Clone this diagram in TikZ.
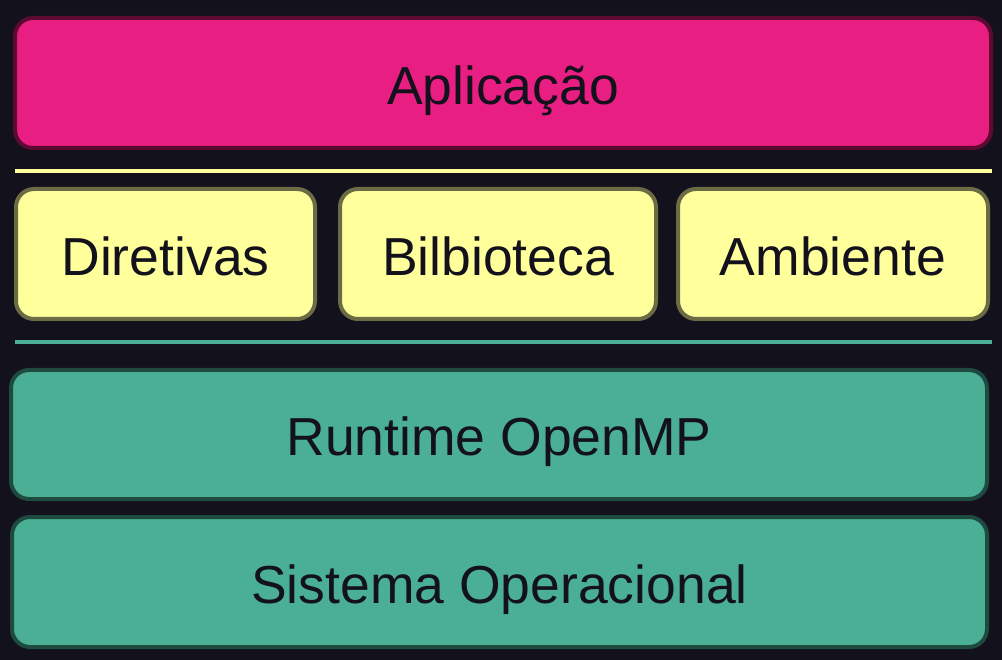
\documentclass[tikz,border=0pt]{standalone}
\usepackage{fontspec}
\setmainfont{Liberation Sans}
\definecolor{bgc}{HTML}{12111C}
\definecolor{pinkf}{HTML}{E91E82}
\definecolor{pinkd}{HTML}{5C0A32}
\definecolor{yelf}{HTML}{FFFF9C}
\definecolor{yeld}{HTML}{6B6B45}
\definecolor{tealf}{HTML}{4BAF96}
\definecolor{teald}{HTML}{1E4A40}
\definecolor{txt}{HTML}{12111C}
\begin{document}
\begin{tikzpicture}[x=1pt,y=-1pt,
  layer/.style={rounded corners=18pt, line width=4pt, text=txt,
    font=\fontsize{53.5}{60}\selectfont, text height=42.5pt, text depth=0pt,
    inner sep=0pt},
  pinkbox/.style={layer, draw=pinkd, fill=pinkf},
  yelbox/.style={layer, draw=yeld, fill=yelf},
  tealbox/.style={layer, draw=teald, fill=tealf},
  sep/.style={line width=4pt}]
\fill[bgc] (0,0) rectangle (1002,660);
\useasboundingbox (0,0) rectangle (1002,660);
\node[pinkbox, minimum width=976pt, minimum height=130pt] (app) at (503,83) {Aplicação};
\coordinate (y1) at (15,171); \coordinate (y2) at (992,171);
\draw[sep, draw=yelf] (y1) -- (y2);
\node[yelbox, minimum width=299pt, minimum height=130pt] (dir) at (165.5,254) {Diretivas};
\node[yelbox, minimum width=316pt, minimum height=130pt] (bib) at (498,254) {Bilbioteca};
\node[yelbox, minimum width=310pt, minimum height=130pt] (amb) at (833,254) {Ambiente};
\coordinate (t1) at (15,342); \coordinate (t2) at (992,342);
\draw[sep, draw=tealf] (t1) -- (t2);
\node[tealbox, minimum width=976pt, minimum height=129pt] (rt) at (499,434.5) {Runtime OpenMP};
\node[tealbox, minimum width=975pt, minimum height=130pt] (so) at (499.5,582) {Sistema Operacional};
\end{tikzpicture}
\end{document}
